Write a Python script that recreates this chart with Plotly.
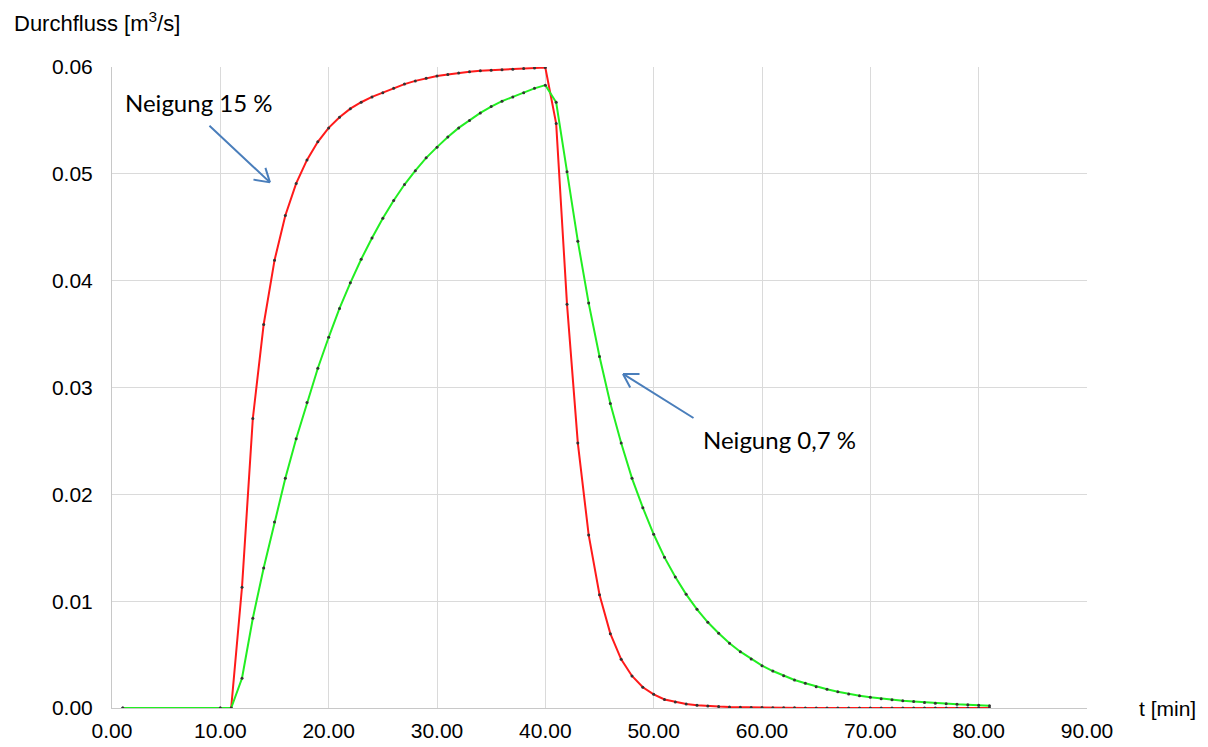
import plotly.graph_objects as go

# time [min]
t = [1, 10] + list(range(11, 82))

# Neigung 15 % (red)  [m3/s]
q_15 = [0, 0, 0,
        0.0113, 0.0271, 0.0359, 0.0419, 0.0461, 0.0491, 0.0513, 0.0530, 0.0543, 0.0553,
        0.0561, 0.0567, 0.0572, 0.0576, 0.0580, 0.0584, 0.0587, 0.05895, 0.05915, 0.0593,
        0.05945, 0.05955, 0.05965, 0.0597, 0.05975, 0.0598, 0.05985, 0.0599, 0.05995,
        0.0547, 0.0378, 0.0248, 0.0162, 0.0106, 0.00696, 0.00456, 0.0030, 0.00194, 0.00128,
        0.0008, 0.00055, 0.00037, 0.00026, 0.00018, 0.00013, 0.00009, 0.00007, 0.00005,
        0.00004, 0.00003, 0.00002, 0.00002, 0.00001, 0.00001, 0.00001, 0.00001, 0.00001,
        0.00001, 0.00001, 0.00001, 0.00001, 0.00001, 0.00001, 0.00001, 0.00001, 0.00001,
        0.00001, 0.00001, 0.00001, 0.00001]

# Neigung 0,7 % (green)  [m3/s]
q_07 = [0, 0, 0,
        0.00278, 0.0084, 0.0131, 0.0174, 0.0215, 0.0252, 0.0286, 0.0318, 0.0347, 0.0374,
        0.0398, 0.0420, 0.0440, 0.04585, 0.0475, 0.0490, 0.0503, 0.0515, 0.0525, 0.05345,
        0.0543, 0.0550, 0.0557, 0.0563, 0.0568, 0.0572, 0.0576, 0.0580, 0.0583,
        0.0567, 0.0502, 0.0437, 0.0379, 0.0329, 0.0285, 0.0248, 0.0215, 0.01875, 0.01626,
        0.0141, 0.01227, 0.01064, 0.00924, 0.00802, 0.00699, 0.00606, 0.00527, 0.00459,
        0.00396, 0.00346, 0.00302, 0.00262, 0.00231, 0.0020, 0.00175, 0.00153, 0.00131,
        0.00115, 0.0010, 0.00087, 0.00078, 0.00068, 0.0006, 0.00052, 0.00045, 0.00039,
        0.00034, 0.0003, 0.00026, 0.00022]

x_ticks = [0, 10, 20, 30, 40, 50, 60, 70, 80, 90]
y_ticks = [0, 0.01, 0.02, 0.03, 0.04, 0.05, 0.06]

axis_font = dict(family="Liberation Sans, Arial, sans-serif", size=21, color="#000")
note_font = dict(family="Lato, Carlito, sans-serif", size=24, color="#000")
arrow_col = "#4A7EBB"

fig = go.Figure()
fig.add_trace(go.Scatter(x=t, y=q_15, mode="lines+markers", name="Neigung 15 %",
                         line=dict(color="#ff1a1a", width=2),
                         marker=dict(color="#333", size=3)))
fig.add_trace(go.Scatter(x=t, y=q_07, mode="lines+markers", name="Neigung 0,7 %",
                         line=dict(color="#22ee22", width=2),
                         marker=dict(color="#333", size=3)))

fig.update_xaxes(range=[0, 90], tickvals=x_ticks, tickformat=".2f", automargin=False,
                 showgrid=True, gridcolor="#dadada", gridwidth=1,
                 showline=True, linecolor="#c8c8c8", linewidth=1,
                 zeroline=False, tickfont=axis_font, ticks="", ticklabelstandoff=4)
fig.update_yaxes(range=[0, 0.06], tickvals=y_ticks, tickformat=".2f", automargin=False,
                 showgrid=True, gridcolor="#dadada", gridwidth=1,
                 showline=True, linecolor="#c8c8c8", linewidth=1,
                 zeroline=False, tickfont=axis_font, ticks="", ticklabelstandoff=14)


def arrow_parts(hx, hy, segs):
    # segments given as pixel offsets from the arrow head (shaft + two chevron arms)
    return [dict(x=hx, y=hy, xref="x", yref="y", ax=dx, ay=dy, text="", showarrow=True,
                 arrowhead=0, arrowwidth=2, arrowcolor=arrow_col) for dx, dy in segs]


annotations = [
    dict(x=8.03, y=0.05665, xref="x", yref="y", text="Neigung 15 %", showarrow=False,
         font=note_font, xanchor="center", yanchor="middle"),
    dict(x=61.66, y=0.02509, xref="x", yref="y", text="Neigung 0,7 %", showarrow=False,
         font=note_font, xanchor="center", yanchor="middle"),
    dict(x=-0.1026, y=1.0702, xref="paper", yref="paper", text="Durchfluss [m<sup>3</sup>/s]",
         showarrow=False, xanchor="left", yanchor="middle",
         font=dict(family="Liberation Sans, Arial, sans-serif", size=22, color="#000")),
    dict(x=1.0513, y=0.0, xref="paper", yref="paper", text="t [min]",
         showarrow=False, xanchor="left", yanchor="middle", font=axis_font),
]
annotations += arrow_parts(14.58, 0.0492, [(-62, -58), (-18, -3), (-5, -16)])
annotations += arrow_parts(47.17, 0.03127, [(72, 45), (18, 0), (8, 15)])

fig.update_layout(width=1200, height=739, showlegend=False,
                  margin=dict(l=104, r=121, t=59, b=39, autoexpand=False),
                  plot_bgcolor="white", paper_bgcolor="white",
                  annotations=annotations)

fig.write_html("out.html")
